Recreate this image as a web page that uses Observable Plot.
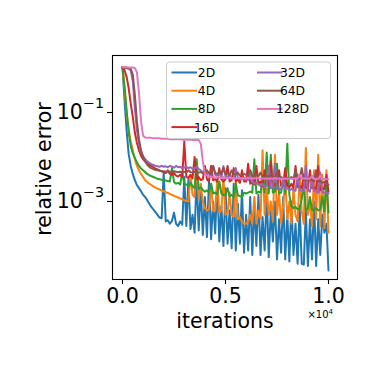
<!DOCTYPE html>
<html><head><meta charset="utf-8">
<script src="https://cdn.jsdelivr.net/npm/d3@7"></script>
<script src="https://cdn.jsdelivr.net/npm/@observablehq/plot@0.6"></script>
<style>
html,body{margin:0;padding:0;background:#fff}
svg{font-family:"DejaVu Sans",sans-serif}
</style>
</head><body><div id="chart"></div>
<script>
// x grid: iterations (every 100)
const iterations = d3.range(0, 10001, 100);
const seriesNames = ["2D", "4D", "8D", "16D", "32D", "64D", "128D"];
const seriesColors = ["#1f77b4", "#ff7f0e", "#2ca02c", "#d62728", "#9467bd", "#8c564b", "#e377c2"];
const xTicks = [0, 5000, 10000];
const yTicks = [0.1, 0.001];
const yTickBase = ["10", "10"];
const yTickExp = ["\u22121", "\u22123"];

// relative error (values are log10 of the error)
const log10Err2D = [
 0.02,-0.73,-1.4,-1.93,-2.2,-2.38,-2.52,-2.63,-2.7,-2.77,
 -2.85,-2.9,-2.97,-3.05,-3.12,-3.18,-3.24,-3.3,-3.36,-3.38,
 -2.35,-3.45,-3.42,-3.5,-3.44,-3.25,-3.5,-3.55,-3.45,-3.52,
 -2.45,-3.55,-2.5,-3.62,-3.3,-3.7,-2.45,-3.65,-2.7,-3.75,
 -2.9,-3.8,-2.5,-3.85,-3.0,-3.72,-2.55,-3.9,-3.1,-4.0,
 -2.7,-3.95,-3.2,-4.05,-2.6,-4.1,-3.05,-3.95,-2.75,-4.15,
 -3.3,-4.1,-2.9,-4.2,-3.1,-4.0,-2.85,-4.2,-3.35,-4.1,
 -2.8,-4.25,-3.2,-3.9,-3.0,-4.3,-3.4,-4.15,-2.9,-4.3,
 -3.3,-4.35,-3.0,-4.2,-3.5,-4.4,-3.1,-4.4,-4.42,-3.2,
 -4.45,-3.4,-4.3,-3.0,-4.45,-3.4,-4.2,-3.3,-3.7,-3.5,-4.55];
const log10Err4D = [
 0.02,-0.5,-1.0,-1.38,-1.65,-1.85,-2.05,-2.2,-2.3,-2.38,
 -2.45,-2.52,-2.56,-2.6,-2.63,-2.66,-2.69,-2.71,-2.73,-2.75,
 -2.77,-2.79,-2.81,-2.83,-2.85,-2.87,-2.89,-2.91,-2.93,-2.95,
 -2.97,-2.99,-3.0,-2.4,-2.85,-2.9,-2.2,-2.95,-2.6,-3.0,
 -3.15,-3.2,-3.18,-2.6,-3.22,-3.2,-2.5,-3.25,-3.2,-2.45,
 -3.3,-3.25,-2.8,-3.3,-3.35,-2.55,-3.4,-3.35,-3.45,-3.5,
 -3.5,-3.45,-3.3,-3.5,-2.9,-3.5,-3.2,-3.4,-1.85,-3.3,
 -2.7,-3.3,-3.0,-3.45,-1.95,-3.3,-2.8,-3.5,-3.1,-2.5,
 -3.4,-3.0,-3.5,-2.7,-3.3,-3.45,-2.4,-3.2,-3.5,-1.8,
 -3.3,-3.0,-3.55,-2.3,-3.4,-1.95,-3.55,-2.4,-3.6,-2.3,-3.7];
const log10Err8D = [
 0.02,-0.4,-0.95,-1.45,-1.75,-1.92,-2.02,-2.12,-2.2,-2.26,
 -2.3,-2.34,-2.38,-2.41,-2.43,-2.45,-2.47,-2.49,-2.5,-2.51,
 -2.52,-2.53,-2.54,-2.55,-2.25,-2.56,-2.6,-2.58,-2.62,-2.35,
 -2.6,-2.62,-2.65,-2.58,-2.66,-2.7,-2.05,-2.72,-2.68,-2.74,
 -2.78,-2.75,-2.8,-2.6,-2.82,-2.8,-2.84,-2.55,-2.82,-2.86,
 -2.85,-2.7,-2.88,-2.85,-2.9,-2.6,-2.86,-2.88,-2.9,-2.8,
 -2.82,-2.8,-2.78,-2.8,-2.05,-2.82,-2.78,-2.8,-2.5,-2.8,
 -1.9,-2.82,-1.95,-2.8,-2.78,-2.15,-2.82,-2.8,-2.5,-2.82,
 -1.7,-2.85,-3.1,-3.15,-3.12,-3.18,-3.15,-2.95,-2.6,-3.2,
 -3.15,-2.9,-3.18,-3.2,-3.15,-3.2,-3.18,-2.9,-3.22,-2.5,-3.25];
const log10Err16D = [
 0.02,-0.05,-0.2,-0.45,-0.8,-1.1,-1.45,-1.68,-1.85,-1.97,
 -2.05,-2.1,-2.14,-2.18,-2.2,-2.23,-2.26,-2.28,-2.3,-2.32,
 -2.34,-2.36,-2.3,-2.38,-2.4,-2.36,-2.42,-2.44,-2.4,-2.45,
 -1.65,-2.45,-2.47,-2.4,-2.48,-2.0,-2.5,-2.45,-2.52,-2.5,
 -2.2,-2.5,-2.55,-2.2,-2.52,-2.5,-2.55,-2.25,-2.5,-2.55,
 -2.5,-2.2,-2.55,-2.52,-2.25,-2.55,-2.5,-2.58,-2.3,-2.55,
 -2.55,-2.15,-2.6,-2.58,-2.62,-2.2,-2.6,-2.55,-2.65,-2.3,
 -2.6,-2.62,-2.1,-2.65,-2.6,-2.68,-2.3,-2.65,-2.62,-2.25,
 -2.65,-2.68,-2.6,-2.7,-2.2,-2.68,-2.65,-2.7,-2.4,-2.68,
 -2.72,-2.3,-2.7,-2.68,-2.72,-2.2,-2.75,-2.7,-2.72,-2.4,-2.78];
const log10Err32D = [
 0.02,0.01,0.0,-0.02,-0.05,-0.3,-0.9,-1.4,-1.7,-1.88,
 -1.98,-2.05,-2.1,-2.13,-2.16,-2.18,-2.2,-2.21,-2.22,-2.2,
 -2.22,-2.21,-2.23,-2.2,-2.22,-2.24,-2.2,-2.23,-2.22,-2.25,
 -2.24,-2.22,-2.25,-2.23,-2.26,-2.25,-2.22,-2.27,-2.3,-2.35,
 -2.38,-2.4,-2.35,-2.42,-2.2,-2.4,-2.42,-2.38,-2.45,-2.2,
 -2.43,-2.45,-2.4,-2.47,-2.48,-2.25,-2.46,-2.5,-2.48,-2.5,
 -2.5,-2.52,-2.3,-2.55,-2.6,-2.58,-2.62,-2.65,-2.6,-2.68,
 -2.65,-2.2,-2.7,-2.68,-2.15,-2.72,-2.7,-2.74,-2.5,-2.72,
 -2.7,-2.75,-2.72,-2.74,-2.76,-2.4,-2.74,-2.76,-2.78,-2.2,
 -2.75,-2.78,-2.5,-2.76,-2.78,-2.8,-2.35,-2.78,-2.8,-2.8,-2.82];
const log10Err64D = [
 0.02,0.01,0.0,0.0,-0.02,-0.15,-0.6,-1.2,-1.6,-1.85,
 -2.0,-2.1,-2.17,-2.22,-2.25,-2.27,-2.29,-2.3,-2.31,-2.32,
 -2.32,-2.33,-2.32,-2.33,-2.34,-2.32,-2.33,-2.34,-2.33,-2.34,
 -2.33,-2.35,-2.3,-2.34,-2.35,-2.33,-2.36,-2.35,-2.34,-2.36,
 -2.35,-2.3,-2.36,-2.38,-2.2,-2.36,-2.38,-2.35,-2.38,-2.25,
 -2.38,-2.36,-2.4,-2.3,-2.38,-2.4,-2.35,-2.42,-2.4,-2.38,
 -2.4,-2.42,-2.3,-2.42,-2.44,-2.4,-2.43,-2.35,-2.45,-2.44,
 -2.42,-2.45,-2.4,-2.46,-2.45,-2.35,-2.47,-2.45,-2.48,-2.46,
 -2.47,-2.48,-2.45,-2.5,-2.3,-2.48,-2.5,-2.25,-2.5,-2.52,
 -2.5,-2.45,-2.52,-2.55,-2.3,-2.53,-2.55,-2.58,-2.56,-2.6,-2.62];
const log10Err128D = [
 0.02,0.02,0.02,0.01,0.01,0.01,0.0,-0.1,-0.55,-1.2,
 -1.52,-1.56,-1.57,-1.57,-1.57,-1.58,-1.58,-1.58,-1.58,-1.59,
 -1.59,-1.59,-1.59,-1.6,-1.6,-1.6,-1.6,-1.6,-1.6,-1.61,
 -1.61,-1.61,-1.61,-1.61,-1.62,-1.62,-1.62,-1.62,-1.7,-2.1,
 -2.38,-2.42,-2.44,-2.45,-2.45,-2.46,-2.45,-2.46,-2.47,-2.46,
 -2.47,-2.47,-2.46,-2.48,-2.47,-2.48,-2.47,-2.48,-2.48,-2.47,
 -2.48,-2.47,-2.48,-2.49,-2.48,-2.48,-2.47,-2.49,-2.48,-2.49,
 -2.48,-2.49,-2.48,-2.49,-2.47,-2.49,-2.48,-2.49,-2.48,-2.49,
 -2.49,-2.48,-2.49,-2.49,-2.48,-2.49,-2.4,-2.49,-2.48,-2.49,
 -2.49,-2.49,-2.42,-2.49,-2.5,-2.49,-2.42,-2.5,-2.49,-2.5,-2.5];

const allLogs = [log10Err2D, log10Err4D, log10Err8D, log10Err16D, log10Err32D, log10Err64D, log10Err128D];
const rows = [];
seriesNames.forEach((name, k) => {
  allLogs[k].forEach((v, i) => rows.push({iter: iterations[i], err: Math.pow(10, v), series: name}));
});

const W = 374, H = 374, mL = 112, mR = 37, mT = 55, mB = 95;

const svg = Plot.plot({
  width: W, height: H,
  marginLeft: mL, marginRight: mR, marginTop: mT, marginBottom: mB,
  style: {fontFamily: "DejaVu Sans", fontSize: "20.5px", background: "white", color: "black", overflow: "visible"},
  x: {domain: [-485, 10437]},
  y: {type: "log", domain: [Math.pow(10, -4.753), Math.pow(10, 0.281)]},
  color: {domain: seriesNames, range: seriesColors},
  marks: [
    Plot.line(rows, {x: "iter", y: "err", z: "series", stroke: "series", strokeWidth: 2, strokeLinejoin: "round", curve: "linear"}),
    Plot.axisX({ticks: xTicks, tickFormat: d => (d / 1e4).toFixed(1), tickSize: 5, tickPadding: 4, label: null, fontSize: 20.5, strokeWidth: 1.1}),
    Plot.axisY({ticks: yTicks, tickFormat: d => yTickBase[yTicks.indexOf(d)] + "|" + yTickExp[yTicks.indexOf(d)], tickSize: 5, tickPadding: 3.5, label: null, fontSize: 20.5, strokeWidth: 1.1}),
    Plot.frame({stroke: "black", strokeWidth: 1.1})
  ]
});

const s = d3.select(svg);
// y tick labels as 10 with a raised exponent (mathtext style)
s.selectAll('g[aria-label="y-axis tick label"] text').each(function() {
  const parts = this.textContent.split("|");
  const t = d3.select(this);
  t.text(null);
  t.append("tspan").text(parts[0]);
  t.append("tspan").attr("font-size", 14.3).attr("dy", -11.5).text(parts[1]);
});
// axis labels
s.append("text").attr("x", (mL + W - mR) / 2 + 0.5).attr("y", 328)
  .attr("text-anchor", "middle").attr("font-size", 20.5).attr("fill", "black").text("iterations");
s.append("text").attr("transform", "translate(50.5,169) rotate(-90)")
  .attr("text-anchor", "middle").attr("font-size", 20.5).attr("fill", "black").text("relative error");
const off = s.append("text").attr("x", 333).attr("y", 318).attr("text-anchor", "end")
  .attr("font-size", 10).attr("fill", "black");
off.append("tspan").text("\u00D710");
off.append("tspan").attr("font-size", 7).attr("dy", -4).text("4");

// legend
const lg = s.append("g");
lg.append("rect").attr("x", 166.5).attr("y", 62).attr("width", 164).attr("height", 76.5)
  .attr("rx", 3).attr("fill", "white").attr("fill-opacity", 0.8)
  .attr("stroke", "#cccccc").attr("stroke-width", 1);
const rowY0 = 72.5, rowDy = 18.2;
seriesNames.forEach((name, k) => {
  const col = k < 4 ? 0 : 1;
  const row = k < 4 ? k : k - 4;
  const hx = col === 0 ? 171.5 : 257;
  const tx = col === 0 ? 206.5 : 292.5;
  const y = rowY0 + row * rowDy;
  lg.append("line").attr("x1", hx).attr("x2", hx + 25.5).attr("y1", y).attr("y2", y)
    .attr("stroke", seriesColors[k]).attr("stroke-width", 2);
  lg.append("text").attr("x", tx).attr("y", y).attr("dy", "0.36em")
    .attr("font-size", 12.3).attr("fill", "black").text(name);
});

document.getElementById("chart").appendChild(svg);
</script>
</body></html>
